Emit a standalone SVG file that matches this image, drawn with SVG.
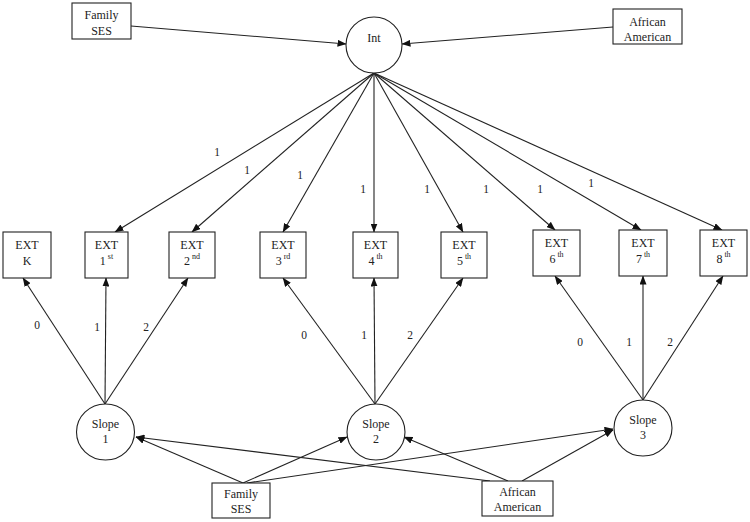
<svg xmlns="http://www.w3.org/2000/svg" width="750" height="522" viewBox="0 0 750 522">
<defs>
<marker id="ah" markerUnits="userSpaceOnUse" markerWidth="9" markerHeight="7" refX="8.5" refY="3.5" orient="auto">
<path d="M0,0 L9,3.5 L0,7 z" fill="#111"/>
</marker>
<style>
.box{fill:#fff;stroke:#222;stroke-width:1.1}
.t{font-family:"Liberation Serif","Times New Roman",serif;font-size:12px;fill:#222;text-anchor:middle}
.s{font-size:8px}
.lb{font-family:"Liberation Serif","Times New Roman",serif;font-size:11.5px;fill:#222;text-anchor:middle}
.c line{stroke:#222;stroke-width:1.1;marker-end:url(#ah)}
</style>
</defs>
<rect width="750" height="522" fill="#fff"/>
<g class="c" id="connectors">
<line x1="131" y1="26" x2="346" y2="44"/>
<line x1="613" y1="27" x2="402" y2="44"/>
<line x1="374" y1="73" x2="115" y2="232"/>
<line x1="374" y1="73" x2="192" y2="232"/>
<line x1="374" y1="73" x2="283" y2="232"/>
<line x1="374" y1="73" x2="374" y2="232"/>
<line x1="374" y1="73" x2="463" y2="232"/>
<line x1="374" y1="73" x2="555" y2="230"/>
<line x1="374" y1="73" x2="641" y2="230"/>
<line x1="374" y1="73" x2="722" y2="230"/>
<line x1="105" y1="404" x2="23" y2="278"/>
<line x1="105" y1="404" x2="106" y2="278"/>
<line x1="105" y1="404" x2="188" y2="278"/>
<line x1="375" y1="404" x2="283" y2="278"/>
<line x1="375" y1="404" x2="374" y2="278"/>
<line x1="375" y1="404" x2="463" y2="278"/>
<line x1="643" y1="400" x2="555" y2="276"/>
<line x1="643" y1="400" x2="643" y2="276"/>
<line x1="643" y1="400" x2="723" y2="276"/>
<line x1="243" y1="483" x2="136" y2="437"/>
<line x1="243" y1="483" x2="347" y2="437"/>
<line x1="247" y1="483" x2="613" y2="429"/>
<line x1="490" y1="481" x2="136" y2="437"/>
<line x1="508" y1="481" x2="404" y2="437"/>
<line x1="522" y1="481" x2="613" y2="430"/>
</g>
<g id="labels">
<text class="lb" x="217" y="156">1</text>
<text class="lb" x="247" y="174">1</text>
<text class="lb" x="300" y="179">1</text>
<text class="lb" x="363" y="193">1</text>
<text class="lb" x="427" y="193">1</text>
<text class="lb" x="486" y="193">1</text>
<text class="lb" x="540" y="193">1</text>
<text class="lb" x="591" y="187">1</text>
<text class="lb" x="37" y="329">0</text>
<text class="lb" x="97" y="331">1</text>
<text class="lb" x="146" y="331">2</text>
<text class="lb" x="304" y="339">0</text>
<text class="lb" x="364" y="339">1</text>
<text class="lb" x="410" y="339">2</text>
<text class="lb" x="580" y="346">0</text>
<text class="lb" x="629" y="346">1</text>
<text class="lb" x="670" y="346">2</text>
</g>
<g id="famSesTop"><rect class="box" x="72" y="3" width="59" height="36"/><text class="t" x="101.5" y="19">Family</text><text class="t" x="101.5" y="35">SES</text></g>
<g id="afrTop"><rect class="box" x="613" y="9" width="69" height="35"/><text class="t" x="647.5" y="26">African</text><text class="t" x="647.5" y="41">American</text></g>
<g id="int"><ellipse class="box" cx="374" cy="45" rx="28" ry="28"/><text class="t" x="374" y="42">Int</text></g>
<g id="extK"><rect class="box" x="3" y="232" width="48" height="46"/><text class="t" x="27" y="249">EXT</text><text class="t" x="27" y="265">K</text></g>
<g id="ext1"><rect class="box" x="85" y="232" width="43" height="46"/><text class="t" x="106.5" y="249">EXT</text><text class="t" x="106.5" y="265">1<tspan class="s" dx="2" dy="-6">st</tspan></text></g>
<g id="ext2"><rect class="box" x="169" y="232" width="46" height="46"/><text class="t" x="192" y="249">EXT</text><text class="t" x="192" y="265">2<tspan class="s" dx="2" dy="-6">nd</tspan></text></g>
<g id="ext3"><rect class="box" x="260" y="232" width="46" height="46"/><text class="t" x="283" y="249">EXT</text><text class="t" x="283" y="265">3<tspan class="s" dx="2" dy="-6">rd</tspan></text></g>
<g id="ext4"><rect class="box" x="353" y="232" width="45" height="46"/><text class="t" x="375.5" y="249">EXT</text><text class="t" x="375.5" y="265">4<tspan class="s" dx="2" dy="-6">th</tspan></text></g>
<g id="ext5"><rect class="box" x="441" y="232" width="46" height="46"/><text class="t" x="464" y="249">EXT</text><text class="t" x="464" y="265">5<tspan class="s" dx="2" dy="-6">th</tspan></text></g>
<g id="ext6"><rect class="box" x="533" y="230" width="47" height="46"/><text class="t" x="556.5" y="247">EXT</text><text class="t" x="556.5" y="263">6<tspan class="s" dx="2" dy="-6">th</tspan></text></g>
<g id="ext7"><rect class="box" x="619" y="230" width="48" height="46"/><text class="t" x="643" y="247">EXT</text><text class="t" x="643" y="263">7<tspan class="s" dx="2" dy="-6">th</tspan></text></g>
<g id="ext8"><rect class="box" x="700" y="230" width="47" height="46"/><text class="t" x="723.5" y="247">EXT</text><text class="t" x="723.5" y="263">8<tspan class="s" dx="2" dy="-6">th</tspan></text></g>
<g id="slope1"><ellipse class="box" cx="105.5" cy="432" rx="29" ry="28"/><text class="t" x="105.5" y="428">Slope</text><text class="t" x="105.5" y="443">1</text></g>
<g id="slope2"><ellipse class="box" cx="376" cy="432" rx="29" ry="28"/><text class="t" x="376" y="428">Slope</text><text class="t" x="376" y="443">2</text></g>
<g id="slope3"><ellipse class="box" cx="643" cy="428" rx="29" ry="28"/><text class="t" x="643" y="424">Slope</text><text class="t" x="643" y="439">3</text></g>
<g id="famSesBot"><rect class="box" x="212" y="483" width="58" height="35"/><text class="t" x="241" y="498">Family</text><text class="t" x="241" y="513">SES</text></g>
<g id="afrBot"><rect class="box" x="482" y="481" width="71" height="35"/><text class="t" x="517.5" y="496">African</text><text class="t" x="517.5" y="511">American</text></g>
</svg>
